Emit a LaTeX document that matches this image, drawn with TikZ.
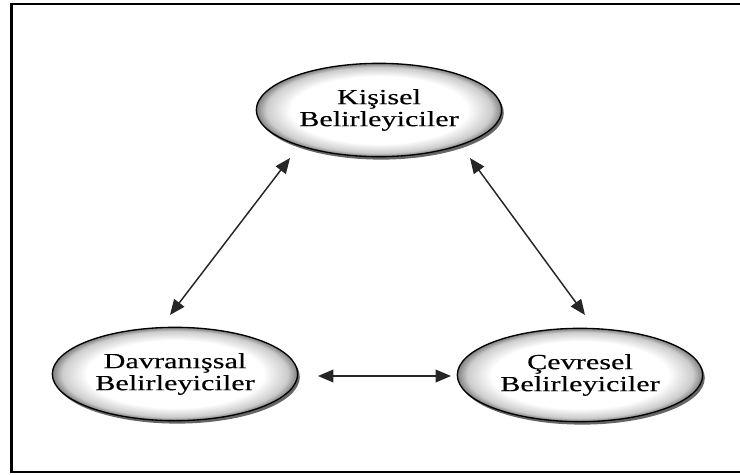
\documentclass[tikz,border=0pt]{standalone}
\usepackage{fontspec}
\newfontfamily\labfont[FakeStretch=1.4,FakeBold=0.15]{Liberation Serif}
\usetikzlibrary{shapes.geometric,arrows.meta}
\pgfdeclareradialshading{ellshade}{\pgfpoint{0bp}{0bp}}{color(0bp)=(white); color(18bp)=(white); color(23bp)=(black!20); color(25bp)=(black!50); color(50bp)=(black!50)}
\tikzset{
  det/.style={ellipse, draw=black, line width=1pt, shading=ellshade,
    minimum width=184pt, minimum height=70pt, inner sep=0pt, align=center,
    font=\labfont\fontsize{16.2}{16.5}\selectfont,
    preaction={fill=black!60, transform canvas={xshift=1.6pt,yshift=-2.2pt}}},
  link/.style={line width=1.1pt, draw=black!85, {Triangle[length=11.5pt,width=9.5pt]}-{Triangle[length=11.5pt,width=9.5pt]}},
  frame/.style={line width=2pt, draw=black}
}
\begin{document}
\begin{tikzpicture}[x=0.75pt,y=-0.75pt]
\useasboundingbox (0,0) rectangle (740,475);
\draw[frame] (760,4) -- (11.7,4) -- (11.7,472) -- (760,472);
\node[det] (kis) at (379,110) {Kişisel\\Belirleyiciler};
\node[det] (dav) at (175,374) {Davranışsal\\Belirleyiciler};
\node[det] (cev) at (580,375) {Çevresel\\Belirleyiciler};
\coordinate (k1) at (290,158);
\coordinate (d1) at (170,315);
\coordinate (k2) at (470,158);
\coordinate (c1) at (585,315);
\coordinate (d2) at (318,376);
\coordinate (c2) at (451,376);
\draw[link] (d1) -- (k1);
\draw[link] (k2) -- (c1);
\draw[link] (d2) -- (c2);
\end{tikzpicture}
\end{document}
